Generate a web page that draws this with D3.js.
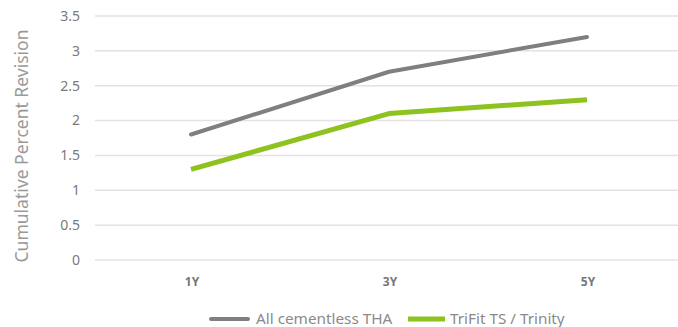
<!DOCTYPE html>
<html><head><meta charset="utf-8">
<script src="https://cdn.jsdelivr.net/npm/d3@7"></script>
<style>body{margin:0;background:#fff;}svg{display:block;}</style>
</head><body>
<svg id="c" width="678" height="327"></svg>
<script>
const categories = ["1Y", "3Y", "5Y"];
const seriesNames = ["All cementless THA", "TriFit TS / Trinity"];
const allCementless = [1.8, 2.7, 3.2];
const trifit = [1.3, 2.1, 2.3];
const yTicks = [0, 0.5, 1, 1.5, 2, 2.5, 3, 3.5];
const yTickLabels = ["0", "0.5", "1", "1.5", "2", "2.5", "3", "3.5"];
const colors = ["#7f7f7f", "#8dc21f"];
const widths = [4, 5];

const svg = d3.select("#c");
const font = "'Noto Sans', 'Open Sans', sans-serif";
const x = d3.scaleBand().domain(categories).range([92, 686]);
const y = d3.scaleLinear().domain([0, 3.5]).range([260, 16]);

svg.append("g").selectAll("line").data(yTicks).join("line")
  .attr("x1", 95).attr("x2", 678)
  .attr("y1", d => y(d)).attr("y2", d => y(d))
  .attr("stroke", "#e2e2e2").attr("stroke-width", 1.5);

svg.append("g").selectAll("text").data(yTicks).join("text")
  .attr("x", 80).attr("y", d => y(d)).attr("dy", "0.35em")
  .attr("text-anchor", "end").attr("font-family", font).attr("font-size", 14)
  .attr("fill", "#7a7a7a").text((d, i) => yTickLabels[i]);

svg.append("g").selectAll("text").data(categories).join("text")
  .attr("x", d => x(d) + x.bandwidth() / 2 + 1).attr("y", 282).attr("dy", "0.35em")
  .attr("text-anchor", "middle").attr("font-family", font).attr("font-size", 12)
  .attr("font-weight", "bold").attr("fill", "#777").text(d => d);

svg.append("text")
  .attr("transform", "translate(22,146) rotate(-90)")
  .attr("text-anchor", "middle").attr("dy", "0.35em").attr("font-family", font).attr("font-size", 17.5)
  .attr("fill", "#9a9a9a").text("Cumulative Percent Revision");

const line = d3.line().x((d, i) => x(categories[i]) + x.bandwidth() / 2).y(d => y(d));
[allCementless, trifit].forEach((s, k) => {
  svg.append("path").datum(s).attr("d", line)
    .attr("fill", "none").attr("stroke", colors[k]).attr("stroke-width", widths[k])
    .attr("stroke-linecap", k === 0 ? "round" : "butt").attr("stroke-linejoin", "round");
});

const leg = [{x1: 211, x2: 248, tx: 256}, {x1: 408, x2: 445, tx: 450}];
seriesNames.forEach((n, k) => {
  svg.append("line").attr("x1", leg[k].x1).attr("x2", leg[k].x2).attr("y1", 319).attr("y2", 319)
    .attr("stroke", colors[k]).attr("stroke-width", widths[k])
    .attr("stroke-linecap", k === 0 ? "round" : "butt");
  svg.append("text").attr("x", leg[k].tx).attr("y", 319).attr("dy", "0.35em")
    .attr("font-family", font).attr("font-size", 15.3).attr("fill", "#8a8a8a").text(n);
});
</script>
</body></html>
